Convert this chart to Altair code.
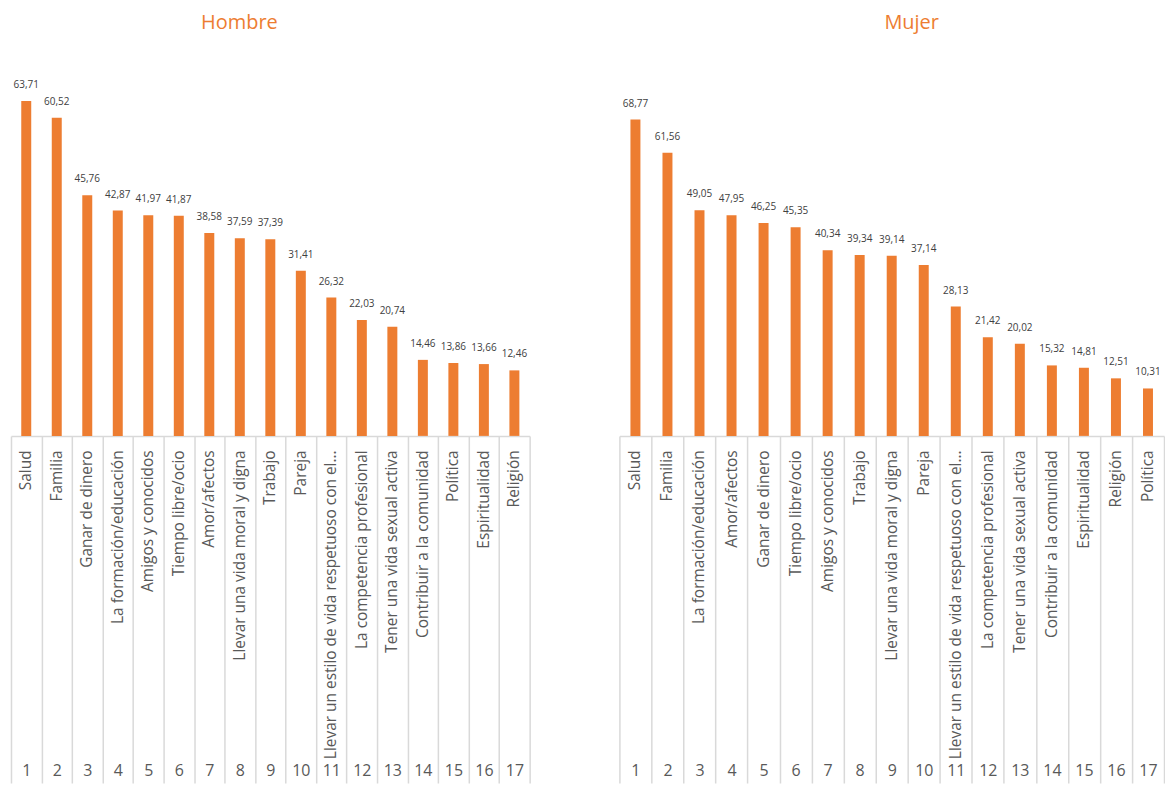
import json
import altair as alt
import pandas as pd

ORANGE = "#ED7D31"
GRID = "#D9D9D9"
FONT = "Open Sans"

ranks = list(range(1, 18))

hombre_cats = ["Salud", "Familia", "Ganar de dinero", "La formación/educación",
               "Amigos y conocidos", "Tiempo libre/ocio", "Amor/afectos",
               "Llevar una vida moral y digna", "Trabajo", "Pareja",
               "Llevar un estilo de vida respetuoso con el...",
               "La competencia profesional", "Tener una vida sexual activa",
               "Contribuir a la comunidad", "Política", "Espiritualidad", "Religión"]
hombre_vals = [63.71, 60.52, 45.76, 42.87, 41.97, 41.87, 38.58, 37.59, 37.39,
               31.41, 26.32, 22.03, 20.74, 14.46, 13.86, 13.66, 12.46]

mujer_cats = ["Salud", "Familia", "La formación/educación", "Amor/afectos",
              "Ganar de dinero", "Tiempo libre/ocio", "Amigos y conocidos", "Trabajo",
              "Llevar una vida moral y digna", "Pareja",
              "Llevar un estilo de vida respetuoso con el...",
              "La competencia profesional", "Tener una vida sexual activa",
              "Contribuir a la comunidad", "Espiritualidad", "Religión", "Política"]
mujer_vals = [68.77, 61.56, 49.05, 47.95, 46.25, 45.35, 40.34, 39.34, 39.14,
              37.14, 28.13, 21.42, 20.02, 15.32, 14.81, 12.51, 10.31]


def panel(title, cats, vals, ymax, width, dx):
    df = pd.DataFrame({
        "rank": ranks,
        "cat": cats,
        "val": vals,
        "lbl": [f"{v:.2f}".replace(".", ",") for v in vals],
    })
    names_js = json.dumps(cats, ensure_ascii=False)
    xs = alt.Scale(paddingInner=0, paddingOuter=0)
    ys = alt.Scale(domain=[0, ymax])
    base = alt.Chart(df)
    bars = base.mark_bar(size=10, color=ORANGE).encode(
        x=alt.X("rank:O", scale=xs, axis=alt.Axis(
            orient="bottom", title=None,
            labelExpr=f"{names_js}[datum.value - 1]",
            labelAngle=-90, labelAlign="right", labelBaseline="middle",
            ticks=False, domain=False, labelPadding=14,
            labelFont=FONT, labelFontSize=15.5, labelColor="#595959",
            labelLimit=500)),
        y=alt.Y("val:Q", scale=ys, axis=None),
    )
    texts = base.mark_text(baseline="bottom", dy=-11, fontSize=10,
                           color="#404040", font=FONT).encode(
        x=alt.X("rank:O", scale=xs, axis=alt.Axis(
            orient="bottom", title=None, tickBand="extent", tickSize=348,
            tickColor=GRID, tickWidth=1.5, domainColor=GRID, domainWidth=1.5,
            labelPadding=-21, labelAngle=0, labelFontSize=16,
            labelColor="#595959", labelFont=FONT, labelAlign="center",
            labelBaseline="top")),
        y=alt.Y("val:Q", scale=ys, axis=None),
        text="lbl:N",
    )
    return alt.layer(bars, texts).resolve_axis(x="independent").properties(
        width=width, height=369,
        title=alt.Title(title, color=ORANGE, fontSize=20, font=FONT,
                        fontWeight="normal", dx=dx, offset=35, anchor="middle"),
    )


left = panel("Hombre", hombre_cats, hombre_vals, 70, 520, -31)
right = panel("Mujer", mujer_cats, mujer_vals, 80, 546, 20)

chart = alt.hconcat(left, right, spacing=88).configure_view(
    strokeWidth=0
).properties(padding={"left": 2, "top": 4, "right": 0, "bottom": 0})

chart.save("out.html", embed_options={"renderer": "svg", "actions": False})
